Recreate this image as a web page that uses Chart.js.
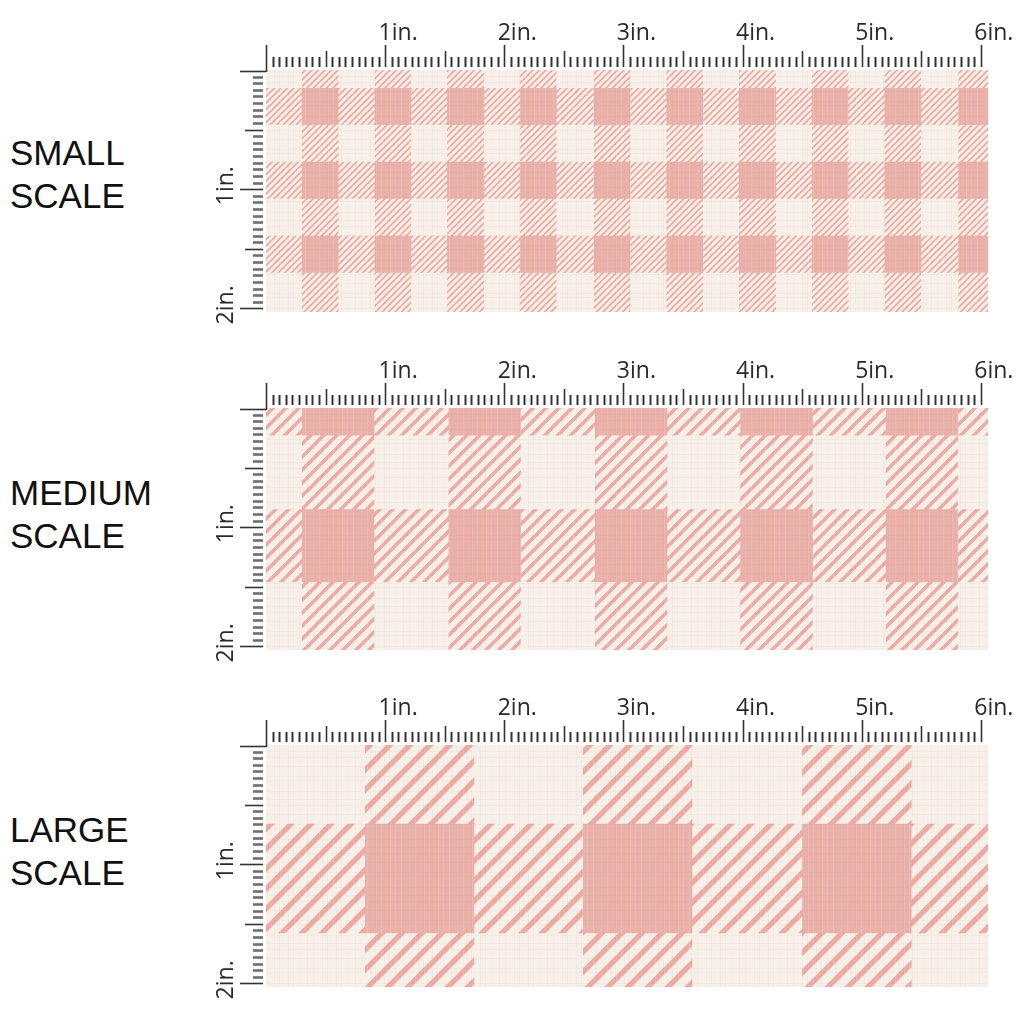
<!DOCTYPE html>
<html>
<head>
<meta charset="utf-8">
<script src="https://cdn.jsdelivr.net/npm/chart.js@4.4.1/dist/chart.umd.min.js"></script>
<style>
  html, body { margin: 0; padding: 0; background: #fff; }
  body { width: 1024px; height: 1024px; position: relative; overflow: hidden; }
  .scale-label { position: absolute; left: 10px; font: 35px/43px "Liberation Sans", Arial, sans-serif; color: #111; }
  canvas { position: absolute; left: 200px; }
</style>
</head>
<body>
<div class="scale-label" style="top:131px">SMALL<br>SCALE</div>
<div class="scale-label" style="top:471px">MEDIUM<br>SCALE</div>
<div class="scale-label" style="top:808px">LARGE<br>SCALE</div>
<canvas id="small" width="824" height="330" style="top:0px"></canvas>
<canvas id="medium" width="824" height="330" style="top:338px"></canvas>
<canvas id="large" width="824" height="330" style="top:675px"></canvas>
<script>
// ruler (inches)
const topInches = ['1in.', '2in.', '3in.', '4in.', '5in.', '6in.'];
const sideInches = ['1in.', '2in.'];
const ticksPerInch = 18;

// gingham bands, start of each band in inches
const smallCols = [0.30, 0.91, 1.52, 2.13, 2.75, 3.36, 3.97, 4.58, 5.19, 5.81];
const smallRows = [0.15, 0.77, 1.39];
const smallBand = 0.31;

const mediumCols = [0.30, 1.53, 2.76, 3.98, 5.20];
const mediumRows = [-0.38, 0.85];
const mediumBand = 0.61;

const largeCols = [0.83, 2.66, 4.50];
const largeRows = [0.66];
const largeBand = 0.92;

// linen threads (offsets inside a 48px tile)
const threadsV = [3, 11, 17, 26, 31, 40, 45];
const threadsH = [5, 9, 20, 28, 34, 43];

const X_MIN = 0, X_MAX = 6.06, Y_MIN = 0, Y_MAX = 2.03;

const CREAM = '#f6f0e9';
const PINK = '#eab0aa';
const STRIPE = '#eda9a3';

// diagonal stripes "/" on cream
function hatch(tile, count, width) {
  const c = document.createElement('canvas');
  c.width = c.height = tile;
  const g = c.getContext('2d');
  g.fillStyle = CREAM;
  g.fillRect(0, 0, tile, tile);
  g.strokeStyle = STRIPE;
  g.lineWidth = width;
  const step = tile / count;
  for (let o = -2 * tile; o <= 2 * tile; o += step) {
    g.beginPath();
    g.moveTo(o - tile, 2 * tile);
    g.lineTo(o + 2 * tile, -tile);
    g.stroke();
  }
  return g.createPattern(c, 'repeat');
}

function linen() {
  const c = document.createElement('canvas');
  c.width = c.height = 48;
  const g = c.getContext('2d');
  g.fillStyle = 'rgba(170,130,100,0.05)';
  threadsV.forEach(v => g.fillRect(v, 0, 1, 48));
  threadsH.forEach(v => g.fillRect(0, v, 48, 1));
  g.fillStyle = 'rgba(255,255,255,0.12)';
  threadsV.forEach(v => g.fillRect((v + 6) % 48, 0, 1, 48));
  return g.createPattern(c, 'repeat');
}

const clampX = v => Math.min(X_MAX, Math.max(X_MIN, v));
const clampY = v => Math.min(Y_MAX, Math.max(Y_MIN, v));

function rect(x0, x1, y0, y1, bg, order) {
  return {
    type: 'line',
    data: [{ x: clampX(x0), y: clampY(y0) }, { x: clampX(x1), y: clampY(y0) }],
    fill: { value: clampY(y1) },
    backgroundColor: bg,
    borderWidth: 0,
    pointRadius: 0,
    order: order
  };
}

function gingham(cols, rows, band, stripes) {
  const ds = [];
  cols.forEach(c => ds.push(rect(c, c + band, Y_MIN, Y_MAX, stripes, 2)));
  rows.forEach(r => ds.push(rect(X_MIN, X_MAX, r, r + band, stripes, 2)));
  cols.forEach(c => rows.forEach(r => ds.push(rect(c, c + band, r, r + band, PINK, 1))));
  return ds;
}

const background = {
  id: 'background',
  beforeDatasetsDraw(chart) {
    const { ctx, chartArea: a } = chart;
    ctx.save();
    ctx.fillStyle = CREAM;
    ctx.fillRect(a.left, a.top, a.right - a.left, a.bottom - a.top);
    ctx.restore();
  },
  afterDatasetsDraw(chart) {
    const { ctx, chartArea: a } = chart;
    ctx.save();
    ctx.fillStyle = linen();
    ctx.fillRect(a.left, a.top, a.right - a.left, a.bottom - a.top);
    ctx.restore();
  }
};

const ruler = {
  id: 'ruler',
  afterDraw(chart) {
    const { ctx, chartArea: a, scales: { x, y } } = chart;
    ctx.save();
    // top ruler
    const base = a.top - 3;
    ctx.strokeStyle = '#333';
    for (let i = 0; i <= topInches.length * ticksPerInch; i++) {
      const px = Math.round(x.getPixelForValue(i / ticksPerInch)) + 0.5;
      const major = i % (ticksPerInch / 2) === 0;
      const len = i % ticksPerInch === 0 ? 22 : major ? 16 : 10;
      ctx.lineWidth = major ? 1.6 : 2;
      ctx.beginPath();
      ctx.moveTo(px, base - len);
      ctx.lineTo(px, i === 0 ? a.top + 2 : base);
      ctx.stroke();
    }
    ctx.font = '23px "Open Sans", sans-serif';
    ctx.fillStyle = '#2a2a2a';
    ctx.textBaseline = 'alphabetic';
    topInches.forEach((t, i) => {
      const px = x.getPixelForValue(i + 1);
      const w = ctx.measureText(t[0]).width;
      ctx.fillText(t, px - w / 2, a.top - 30);
    });
    // corner
    ctx.lineWidth = 1.6;
    ctx.beginPath();
    ctx.moveTo(a.left - 26, a.top + 1.5);
    ctx.lineTo(a.left, a.top + 1.5);
    ctx.stroke();
    // left ruler
    for (let j = 1; j <= sideInches.length * ticksPerInch; j++) {
      const py = Math.round(y.getPixelForValue(j / ticksPerInch)) + 0.5;
      ctx.beginPath();
      if (j % (ticksPerInch / 2) === 0) {
        ctx.strokeStyle = '#333';
        ctx.lineWidth = 1.6;
        ctx.moveTo(a.left - (j % ticksPerInch === 0 ? 26 : 21), py);
      } else {
        ctx.strokeStyle = '#6e6e6e';
        ctx.lineWidth = 2.6;
        ctx.moveTo(a.left - 13, py);
      }
      ctx.lineTo(a.left - 3, py);
      ctx.stroke();
    }
    sideInches.forEach((t, i) => {
      const py = y.getPixelForValue(i + 1);
      ctx.save();
      ctx.translate(a.left - 40, py + 16);
      ctx.rotate(-Math.PI / 2);
      ctx.textBaseline = 'middle';
      ctx.fillText(t, 0, 0);
      ctx.restore();
    });
    ctx.restore();
  }
};

function makePanel(id, cols, rows, band, stripes) {
  return new Chart(document.getElementById(id), {
    type: 'line',
    data: { datasets: gingham(cols, rows, band, stripes) },
    options: {
      responsive: false,
      animation: false,
      events: [],
      layout: { padding: { left: 66, right: 36, top: 70, bottom: 330 - 70 - 242 } },
      plugins: { legend: { display: false }, tooltip: { enabled: false } },
      scales: {
        x: { type: 'linear', min: X_MIN, max: X_MAX, display: false },
        y: { type: 'linear', min: Y_MIN, max: Y_MAX, reverse: true, display: false }
      }
    },
    plugins: [background, ruler]
  });
}

makePanel('small', smallCols, smallRows, smallBand, hatch(13, 2, 1.8));
makePanel('medium', mediumCols, mediumRows, mediumBand, hatch(13, 1, 3.4));
makePanel('large', largeCols, largeRows, largeBand, hatch(20, 1, 5.2));
</script>
</body>
</html>
